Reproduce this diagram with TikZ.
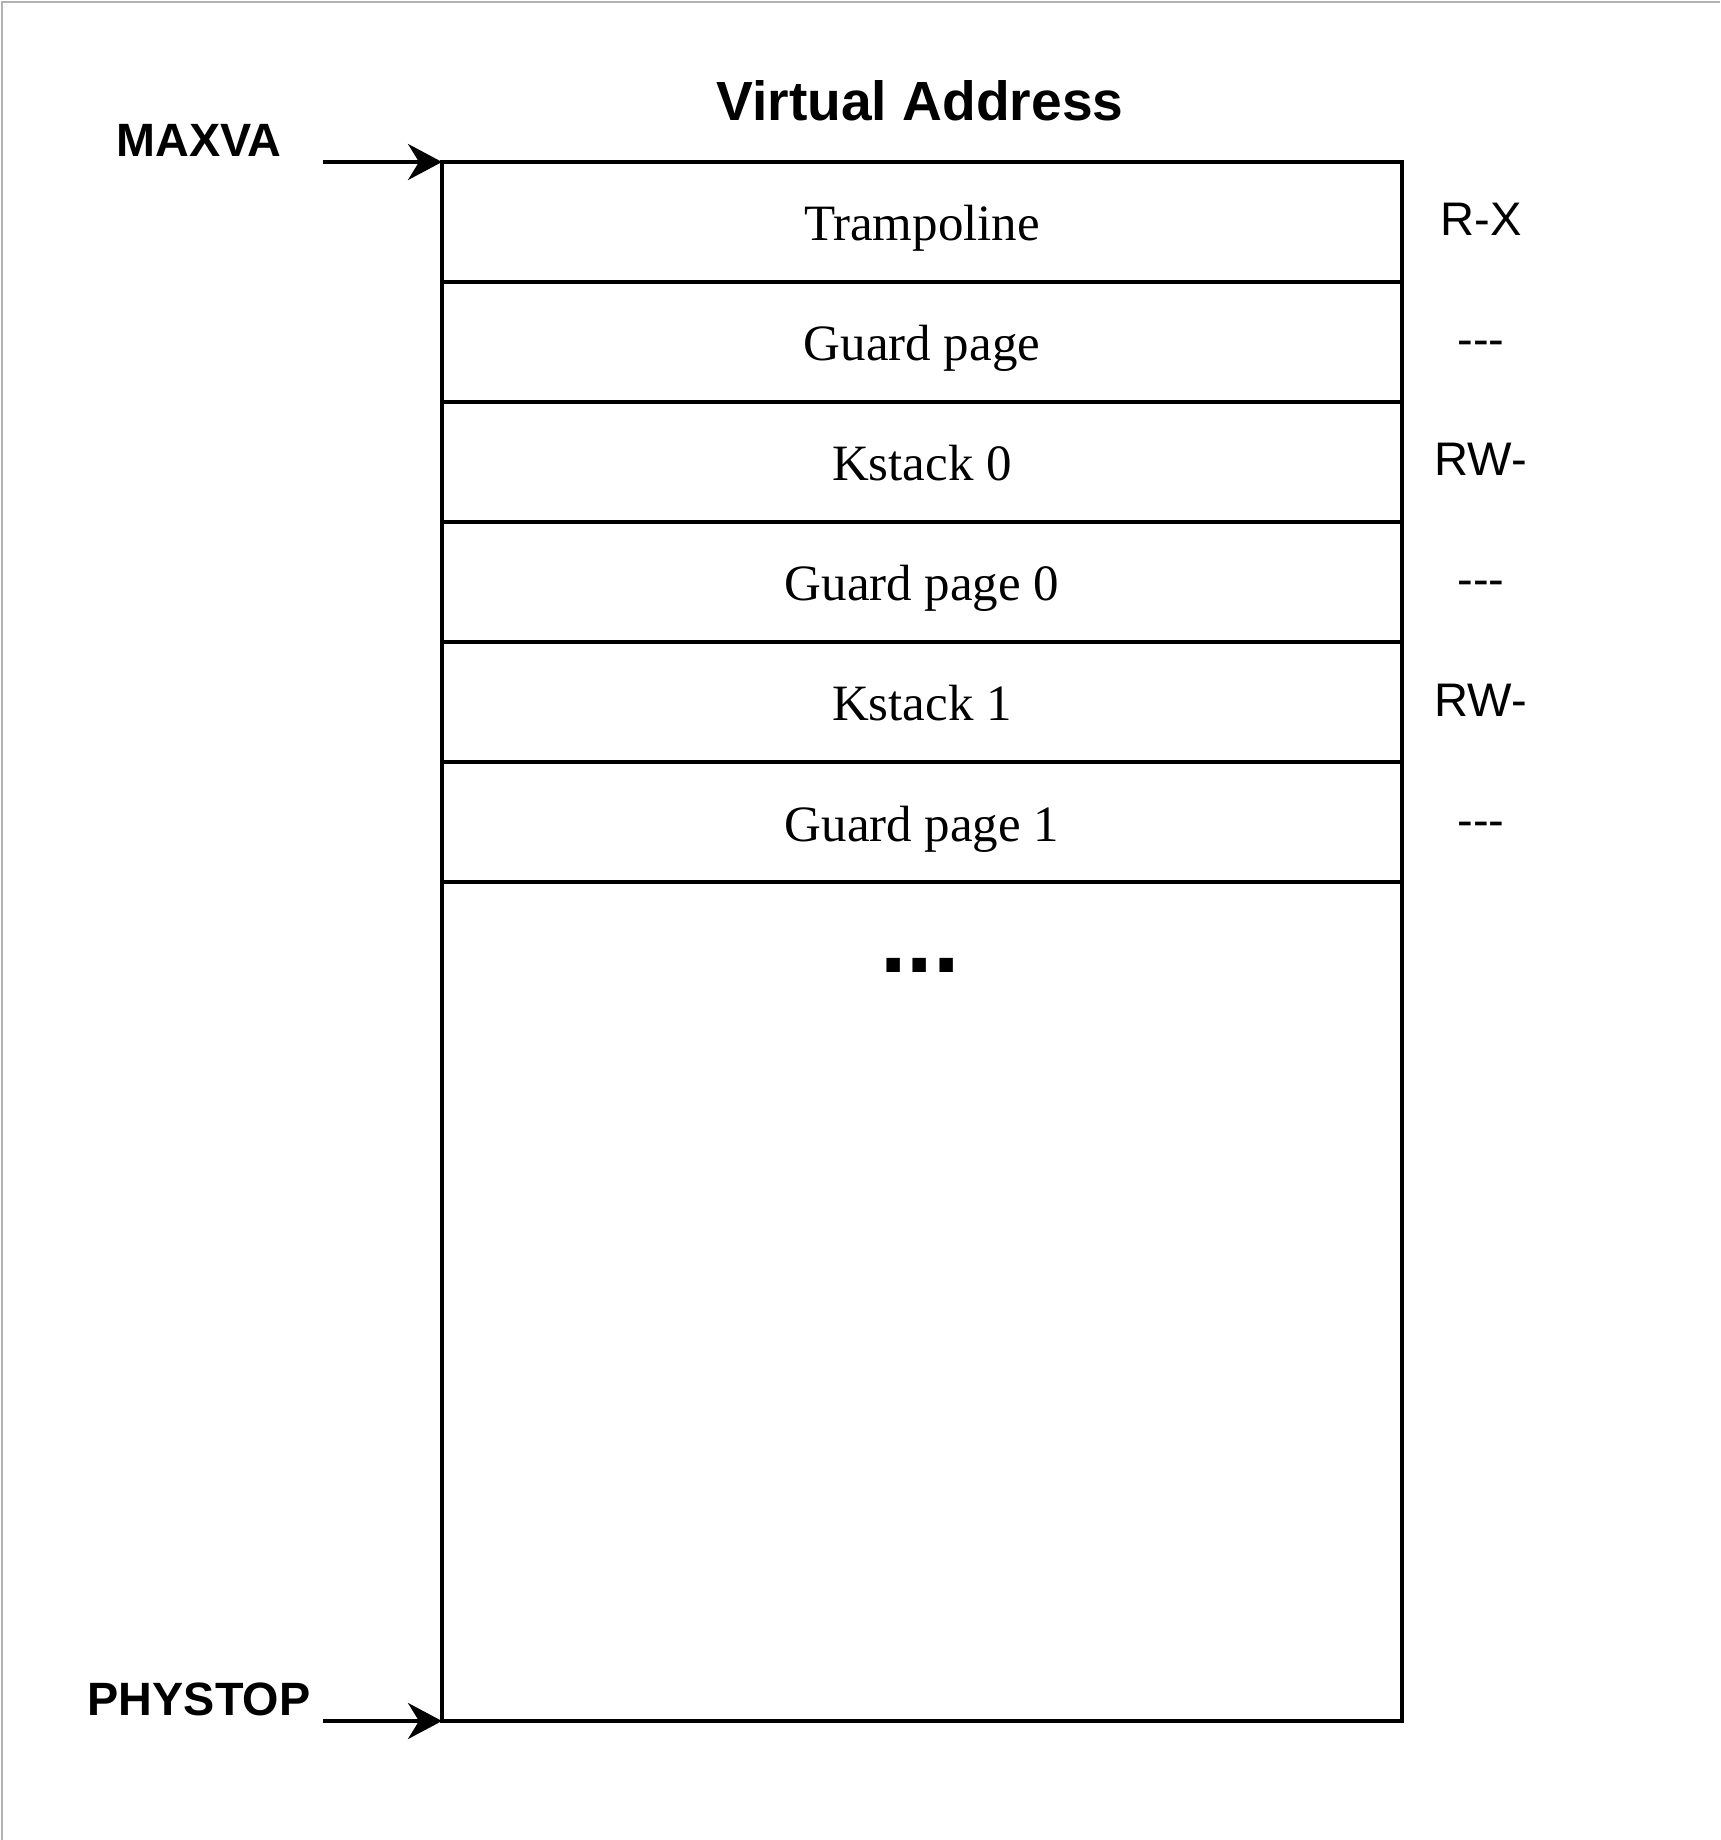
\documentclass[tikz,border=0pt]{standalone}
\usepackage{fontspec}
\setmainfont{Liberation Serif}
\setsansfont{Liberation Sans}
\usetikzlibrary{positioning,arrows.meta}
\begin{document}
\begin{tikzpicture}[node distance = 0, line width = 1.1pt,
    row/.style = {draw, minimum width = 9.6cm, minimum height = 1.2cm, inner sep = 0, outer sep = 0, text height = 0.5cm, text depth = 0.12cm, font = \fontsize{14.5pt}{17pt}\selectfont},
    perm/.style = {text height = 0.4cm, text depth = 0.12cm, font = \sffamily\fontsize{13.4pt}{16pt}\selectfont},
    addr/.style = {font = \sffamily\bfseries\fontsize{13.3pt}{16pt}\selectfont},
    ptr/.style = {-{Stealth[length = 3.4mm, width = 3.6mm, inset = 1.1mm]}}]
    \useasboundingbox (0,0) rectangle (17.2,-18.4);
    \draw[line width = 0.2mm, gray!60] (0.02,-18.4) -- (0.02,-0.02) -- (17.2,-0.02);
    \node[font = \sffamily\bfseries\fontsize{15.7pt}{19pt}\selectfont] (title) at (9.2,-1.01) {Virtual Address};
    \node[row] (t) at (9.22,-2.22) {Trampoline};
    \node[row, below = of t] (g) {Guard page};
    \node[row, below = of g] (k0) {Kstack 0};
    \node[row, below = of k0] (g0) {Guard page 0};
    \node[row, below = of g0] (k1) {Kstack 1};
    \node[row, below = of k1] (g1) {Guard page 1};
    \node[row, minimum height = 8.39cm, below = of g1] (rest) {};
    \node[anchor = base, font = \sffamily\bfseries\fontsize{27pt}{30pt}\selectfont] (dots) at (9.2,-9.72) {...};
    % permissions
    \node[perm] (pt) at ([xshift = 0.79cm]t.east) {R-X};
    \node[perm] (pg) at ([xshift = 0.79cm]g.east) {-{}-{}-};
    \node[perm] (pk0) at ([xshift = 0.79cm]k0.east) {RW-};
    \node[perm] (pg0) at ([xshift = 0.79cm]g0.east) {-{}-{}-};
    \node[perm] (pk1) at ([xshift = 0.79cm]k1.east) {RW-};
    \node[perm] (pg1) at ([xshift = 0.79cm]g1.east) {-{}-{}-};
    % pointers
    \node[addr] (maxva) at (1.99,-1.40) {MAXVA};
    \node[addr] (phystop) at (1.99,-16.99) {PHYSTOP};
    \coordinate (a1) at (3.23,-1.62);
    \coordinate (a2) at (3.23,-17.21);
    \draw[ptr] (a1) -- (t.north west);
    \draw[ptr] (a2) -- (rest.south west);
\end{tikzpicture}
\end{document}
